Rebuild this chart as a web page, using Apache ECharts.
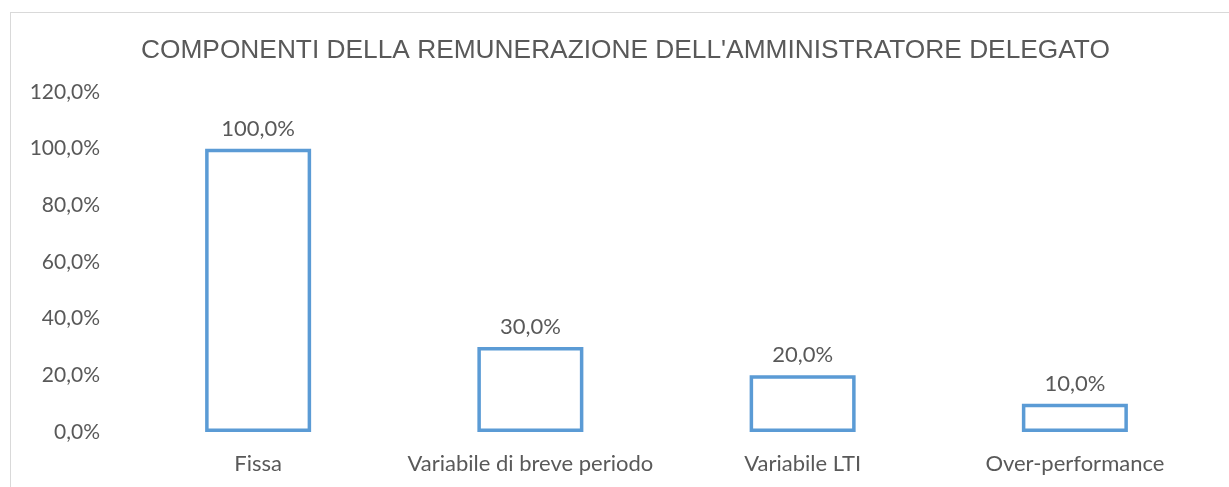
<!DOCTYPE html>
<html><head><meta charset="utf-8">
<style>
html,body{margin:0;padding:0;background:#fff;}
#frame{position:absolute;left:10px;top:12px;width:1219px;height:475px;border-top:1.5px solid #d9d9d9;border-left:1.5px solid #d9d9d9;}
#c{position:absolute;left:0;top:0;width:1229px;height:487px;}
</style>
<script src="https://cdn.jsdelivr.net/npm/echarts@6/dist/echarts.min.js"></script>
</head><body>
<div id="frame"></div>
<div id="c"></div>
<script>
const title = "COMPONENTI DELLA REMUNERAZIONE DELL'AMMINISTRATORE DELEGATO";
const categories = ["Fissa", "Variabile di breve periodo", "Variabile LTI", "Over-performance"];
const values = [1.0, 0.30, 0.20, 0.10];
const yTicks = [0, 0.2, 0.4, 0.6, 0.8, 1.0, 1.2];

const fmt = v => (v * 100).toFixed(1).replace('.', ',') + '%';
const chart = echarts.init(document.getElementById('c'), null, {renderer: 'canvas'});
chart.setOption({
  backgroundColor: 'transparent',
  animation: false,
  title: {
    text: title, left: 136, top: 33,
    textStyle: {fontFamily: 'Liberation Sans', fontSize: 26.3, fontWeight: 'normal', color: '#595959'}
  },
  grid: {left: 122, right: 18, top: 92, bottom: 55, containLabel: false},
  xAxis: {
    type: 'category', data: categories,
    axisLine: {show: false}, axisTick: {show: false},
    axisLabel: {interval: 0, fontFamily: 'Lato', fontSize: 22, color: '#595959', margin: 21}
  },
  yAxis: {
    type: 'value', min: yTicks[0], max: yTicks[yTicks.length - 1], interval: 0.2,
    splitLine: {show: false}, axisLine: {show: false}, axisTick: {show: false},
    axisLabel: {formatter: fmt, fontFamily: 'Lato', fontSize: 21, color: '#595959', margin: 22}
  },
  series: [{
    type: 'bar', data: values, barWidth: 106,
    itemStyle: {color: '#ffffff', borderColor: '#5B9BD5', borderWidth: 3.5},
    label: {show: true, position: 'top', distance: 9, formatter: p => fmt(p.value),
      fontFamily: 'Lato', fontSize: 22, color: '#595959'}
  }]
});
</script>
</body></html>
